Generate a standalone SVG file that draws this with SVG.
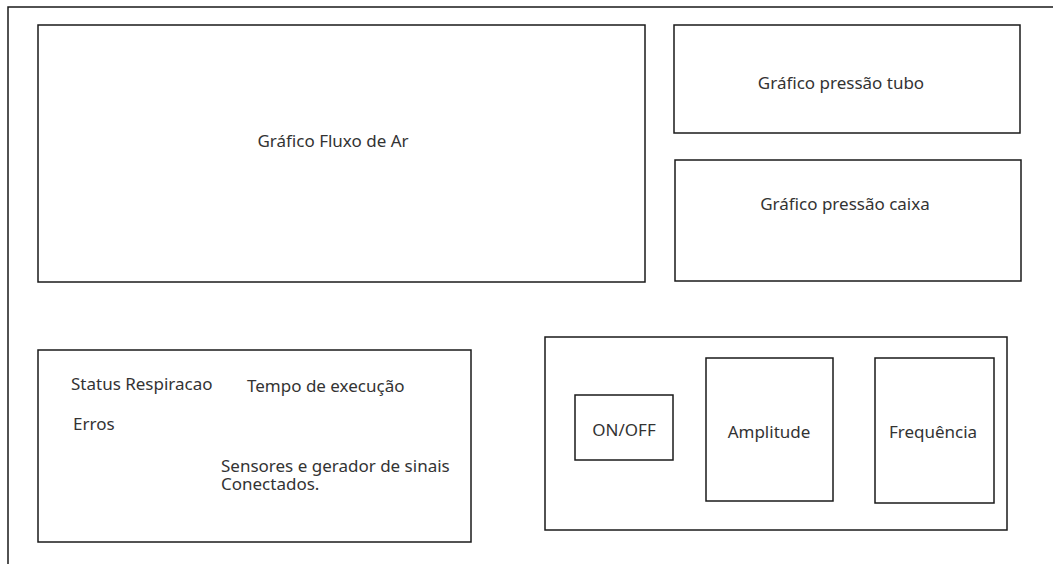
<svg xmlns="http://www.w3.org/2000/svg" width="1053" height="564" viewBox="0 0 1053 564">
  <style>
    .box { fill: none; stroke: #1a1a1a; stroke-width: 1.5; }
    .lbl { font-family: "Noto Sans", "Open Sans", sans-serif; font-size: 17px; fill: #333333; }
    .mid { text-anchor: middle; }
  </style>
  <rect width="1053" height="564" fill="#ffffff"/>
  <!-- outer frame, open to the right and bottom -->
  <g id="frame">
    <rect class="box" x="8" y="7" width="1060" height="570"/>
  </g>
  <g id="fluxo">
    <rect class="box" x="38" y="25" width="607" height="257"/>
    <text class="lbl mid" x="333" y="147">Gráfico Fluxo de Ar</text>
  </g>
  <g id="pressao-tubo">
    <rect class="box" x="674" y="25" width="346" height="108"/>
    <text class="lbl mid" x="841" y="89">Gráfico pressão tubo</text>
  </g>
  <g id="pressao-caixa">
    <rect class="box" x="675" y="160" width="346" height="121"/>
    <text class="lbl mid" x="845" y="210">Gráfico pressão caixa</text>
  </g>
  <g id="status">
    <rect class="box" x="38" y="350" width="433" height="192"/>
    <text class="lbl" x="71" y="390">Status Respiracao</text>
    <text class="lbl" x="247" y="392">Tempo de execução</text>
    <text class="lbl" x="73" y="430">Erros</text>
    <text class="lbl" x="221" y="472">Sensores e gerador de sinais<tspan x="221" dy="18">Conectados.</tspan></text>
  </g>
  <g id="controles">
    <rect class="box" x="545" y="337" width="462" height="193"/>
  </g>
  <g id="on-off">
    <rect class="box" x="575" y="395" width="98" height="65"/>
    <text class="lbl mid" x="624" y="436">ON/OFF</text>
  </g>
  <g id="amplitude">
    <rect class="box" x="706" y="358" width="127" height="143"/>
    <text class="lbl mid" x="769" y="438">Amplitude</text>
  </g>
  <g id="frequencia">
    <rect class="box" x="875" y="358" width="119" height="145"/>
    <text class="lbl mid" x="933" y="438">Frequência</text>
  </g>
  <g id="connectors"></g>
</svg>
